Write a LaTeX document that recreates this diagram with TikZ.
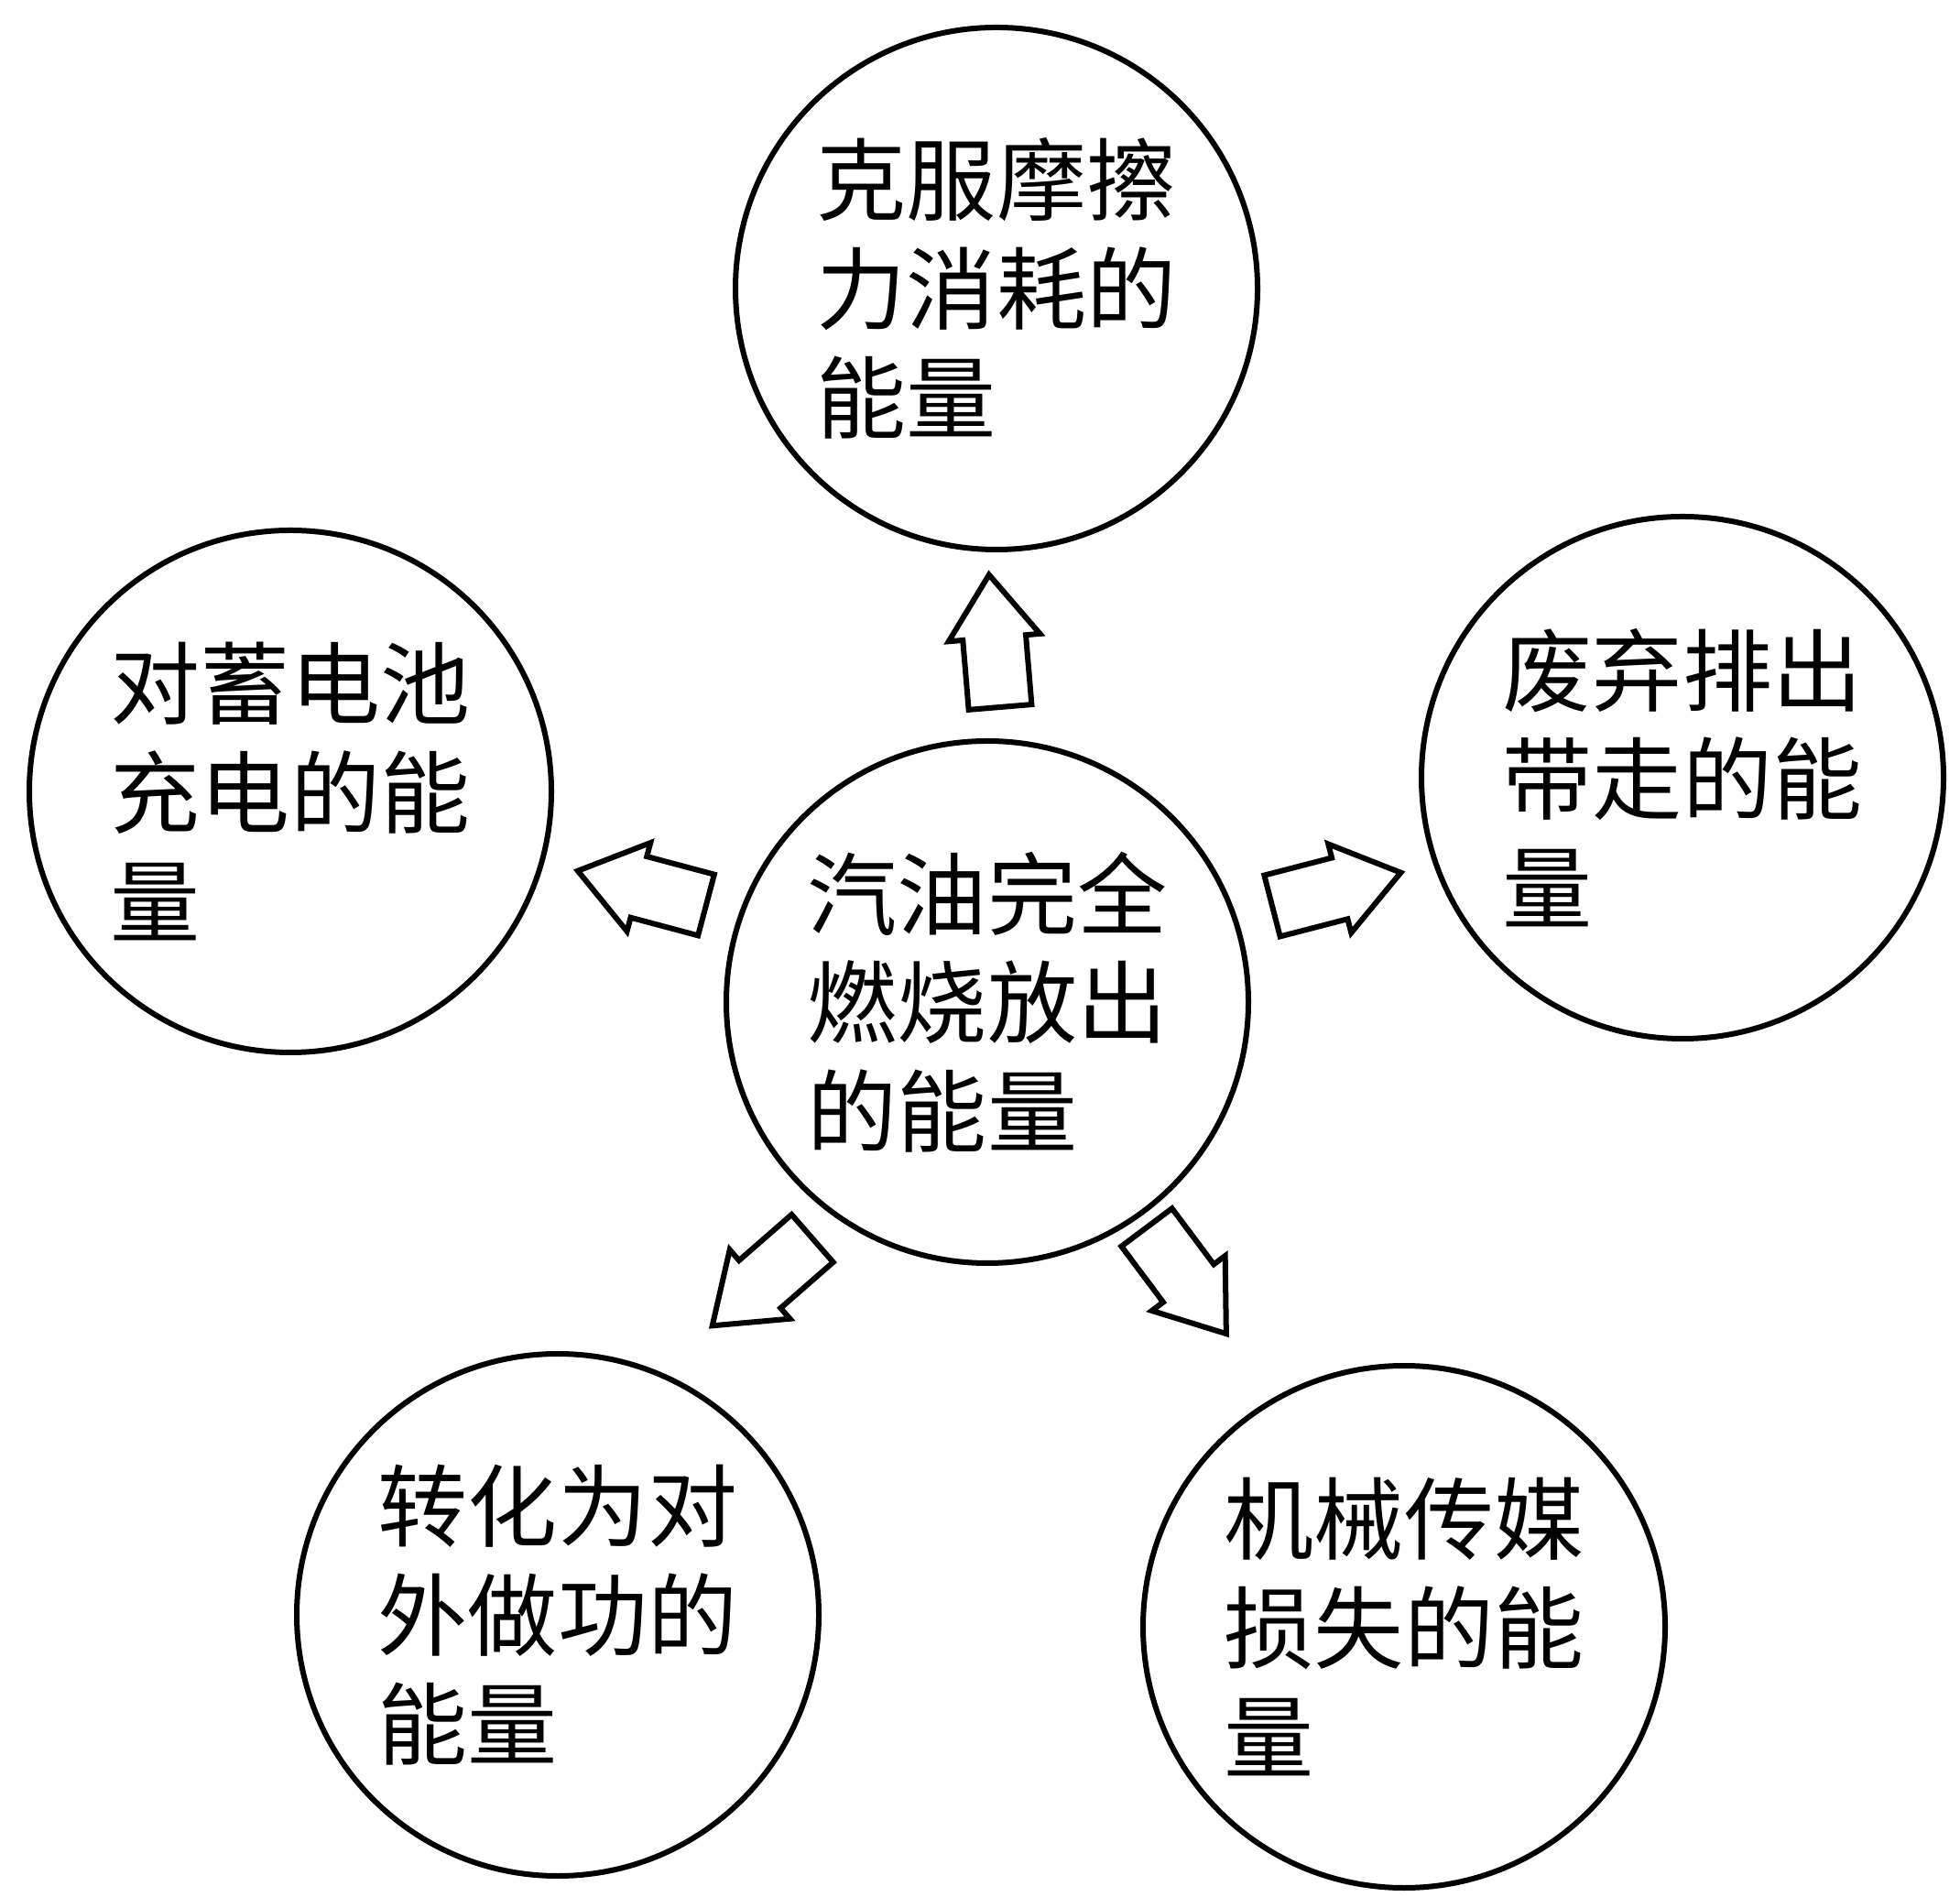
\documentclass[tikz,border=0pt]{standalone}
\usepackage{fontspec}
\newfontfamily\cjk{Noto Sans CJK SC}
\usetikzlibrary{shapes.arrows}

\begin{document}
\begin{tikzpicture}[
    line width=0.06cm,
    font=\cjk\fontsize{27.9}{33.8}\selectfont,
    bubble/.style={circle, draw, minimum size=5.7cm, inner sep=0pt, align=left},
    fat/.style={single arrow, draw, anchor=tail, inner xsep=0pt, inner ysep=0.315cm,
      outer sep=0pt, minimum height=1.45cm,
      single arrow head extend=0.155cm, single arrow tip angle=72}
  ]
  \useasboundingbox (0,0) rectangle (21.4,20.7);

  % centre and the five sinks
  \node[bubble] (fuel) at (10.78,9.76)  {汽油完全\\燃烧放出\\的能量};
  \node[bubble] (fric) at (10.88,17.55) {克服摩擦\\力消耗的\\能量};
  \node[bubble] (batt) at (3.17,12.06)  {对蓄电池\\充电的能\\量};
  \node[bubble] (waste) at (18.37,12.21) {废弃排出\\带走的能\\量};
  \node[bubble] (work) at (6.09,3.07)   {转化为对\\外做功的\\能量};
  \node[bubble] (mech) at (15.33,2.94)  {机械传媒\\损失的能\\量};

  % block arrows
  \node[fat, rotate=94.8]  (toFric) at (10.92,12.98) {};
  \node[fat, rotate=165.1] (toBatt) at (7.71,10.82) {};
  \node[fat, rotate=14.5]  (toWaste) at (13.89,10.81) {};
  \node[fat, rotate=221.1] (toWork) at (8.87,7.18) {};
  \node[fat, rotate=306.8] (toMech) at (12.52,7.30) {};
\end{tikzpicture}
\end{document}
